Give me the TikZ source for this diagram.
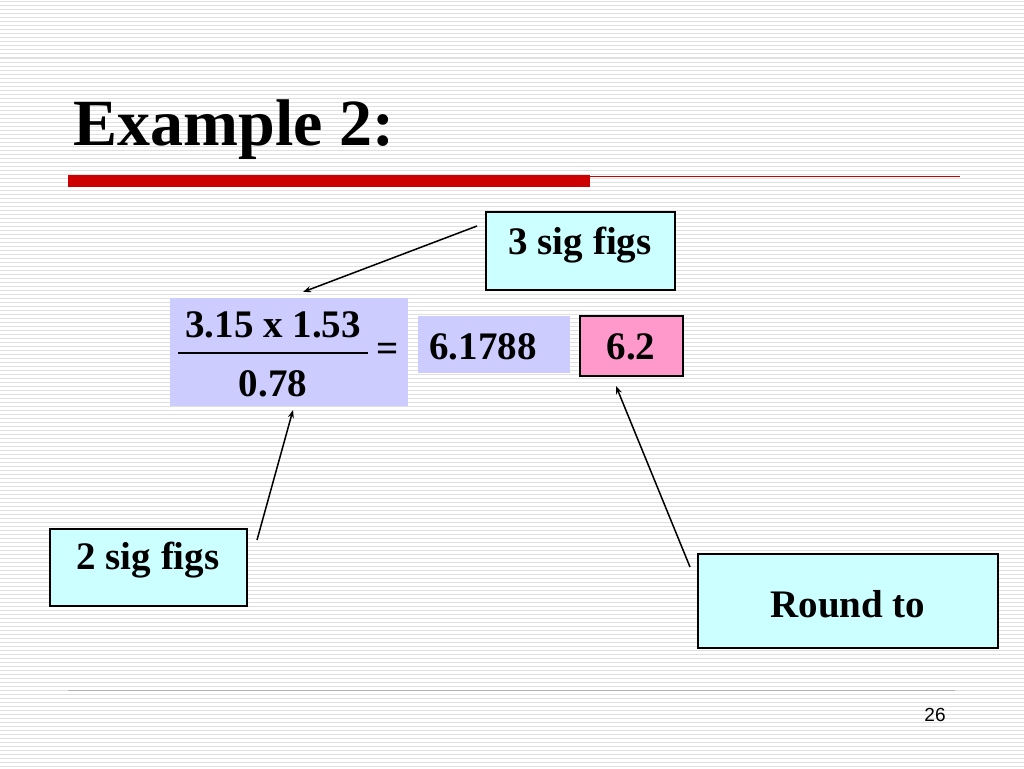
\documentclass[tikz,border=0pt]{standalone}
\usetikzlibrary{arrows.meta}
\usepackage{fontspec}
\setmainfont{Liberation Serif}
\setsansfont{Liberation Sans}
\definecolor{cyanbox}{HTML}{CCFFFF}
\definecolor{lav}{HTML}{CCCCFF}
\definecolor{pinkbox}{HTML}{FF99CC}
\definecolor{redbar}{HTML}{CC0000}
\begin{document}
\begin{tikzpicture}[x=1pt,y=-1pt,
  lbl/.style={font=\fontsize{39}{46}\selectfont\bfseries},
  bx/.style={draw=black,line width=1.5pt,fill=cyanbox},
  arr/.style={-{Stealth[length=8pt,width=6pt]},line width=1.5pt}]
\useasboundingbox (0,0) rectangle (1024,768);
\fill[white] (0,0) rectangle (1024,768);
\foreach \y in {2,6,...,766} \draw[black!12,line width=1pt] (0,\y) -- (1024,\y);
% title
\node[anchor=west,font=\fontsize{66}{76}\selectfont\bfseries] (title) at (70,130) {Example 2:};
\fill[redbar] (68,175) rectangle (590,187);
\draw[redbar,line width=0.8pt] (590,176) -- (960,176);
\draw[black!30,line width=0.8pt] (68,690) -- (955,690);
\node[font=\sffamily\fontsize{19}{22}\selectfont] (pg) at (935,715) {26};
% boxes
\draw[bx] (486,212) rectangle (675,290);
\node[lbl] (s3) at (580,245) {3 sig figs};
\fill[lav] (170,298) rectangle (408,406);
\node[lbl] (num) at (273,325) {3.15 x 1.53};
\draw[line width=1.2pt] (178,353) -- (368,353);
\node[lbl] (den) at (273,384) {0.78};
\node[lbl] (eq) at (388,352) {=};
\fill[lav] (418,316) rectangle (570,373);
\node[lbl] (res) at (483,347) {6.1788};
\draw[draw=black,line width=1.5pt,fill=pinkbox] (580,316) rectangle (683,376);
\node[lbl] (rnd) at (631,347) {6.2};
\draw[bx] (50,529) rectangle (247,606);
\node[lbl] (s2) at (148,560) {2 sig figs};
\draw[bx] (698,554) rectangle (998,648);
\node[lbl] (rt) at (848,604) {Round to};
% arrows
\coordinate (a1) at (477,226); \coordinate (b1) at (303,292);
\coordinate (a2) at (257,540); \coordinate (b2) at (293,410);
\coordinate (a3) at (690,567); \coordinate (b3) at (616,386);
\draw[arr] (a1) -- (b1);
\draw[arr] (a2) -- (b2);
\draw[arr] (a3) -- (b3);
\end{tikzpicture}
\end{document}
